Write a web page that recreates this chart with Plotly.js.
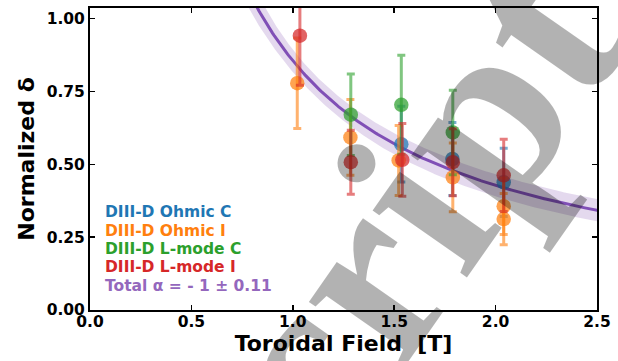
<!DOCTYPE html>
<html>
<head>
<meta charset="utf-8">
<script src="https://cdn.plot.ly/plotly-3.0.1.min.js"></script>
<style>html,body{margin:0;padding:0;background:#fff;}#chart{width:618px;height:361px;}</style>
</head>
<body>
<div id="chart"></div>
<script>
// ---- data ----
const seriesNames = ["DIII-D Ohmic C", "DIII-D Ohmic I", "DIII-D L-mode C", "DIII-D L-mode I"];
const seriesColors = ["31,119,180", "255,127,14", "44,160,44", "214,39,40"];

const ohmicC_B   = [1.535, 1.787, 2.040];
const ohmicC_d   = [0.569, 0.518, 0.438];
const ohmicC_err = [0.130, 0.125, 0.117];

const ohmicI_B   = [1.022, 1.284, 1.522, 1.789, 2.040, 2.040];
const ohmicI_d   = [0.778, 0.592, 0.513, 0.455, 0.356, 0.312];
const ohmicI_err = [0.155, 0.130, 0.120, 0.118, 0.097, 0.088];

const lmodeC_B   = [1.286, 1.535, 1.789];
const lmodeC_d   = [0.670, 0.704, 0.609];
const lmodeC_err = [0.140, 0.170, 0.145];

const lmodeI_B   = [1.035, 1.286, 1.540, 1.789, 2.040];
const lmodeI_d   = [0.941, 0.507, 0.515, 0.507, 0.462];
const lmodeI_err = [0.170, 0.110, 0.125, 0.115, 0.124];

// fit: delta = A * B^alpha
const fitA = 0.855;
const fitAlpha = -1;
const fitAlphaErr = 0.11;
const fitAErrRel = 0.045;
const fitLabel = "Total α = - 1 ± 0.11";

const xTicks = [0.0, 0.5, 1.0, 1.5, 2.0, 2.5];
const yTicks = [0.00, 0.25, 0.50, 0.75, 1.00];

const watermarkText = "Script";

// ---- build ----
const allB = [ohmicC_B, ohmicI_B, lmodeC_B, lmodeI_B];
const allD = [ohmicC_d, ohmicI_d, lmodeC_d, lmodeI_d];
const allE = [ohmicC_err, ohmicI_err, lmodeC_err, lmodeI_err];

const traces = [];

// fit curve and band
const fx = [], fy = [], up = [], lo = [];
for (let i = 0; i <= 300; i++) {
  const b = 0.6 + i * (2.6 - 0.6) / 300;
  const y = fitA * Math.pow(b, fitAlpha);
  const r = Math.sqrt(fitAErrRel * fitAErrRel + Math.pow(fitAlphaErr * Math.log(b), 2));
  fx.push(b); fy.push(y); up.push(y * (1 + r)); lo.push(y * (1 - r));
}
traces.push({
  x: fx.concat(fx.slice().reverse()),
  y: up.concat(lo.slice().reverse()),
  type: 'scatter', mode: 'lines', fill: 'toself',
  fillcolor: 'rgba(148,103,189,0.25)', line: {width: 0, color: 'rgba(0,0,0,0)'},
  hoverinfo: 'skip', showlegend: false
});
traces.push({
  x: fx, y: fy, type: 'scatter', mode: 'lines',
  line: {color: 'rgba(122,72,178,0.95)', width: 3}, showlegend: false
});

for (let s = 0; s < 4; s++) {
  traces.push({
    x: allB[s], y: allD[s], type: 'scatter', mode: 'markers', name: seriesNames[s],
    marker: {size: 14.5, color: 'rgba(' + seriesColors[s] + ',0.72)', line: {width: 0}},
    error_y: {type: 'data', array: allE[s], visible: true, color: 'rgba(' + seriesColors[s] + ',0.6)', thickness: 3, width: 4},
    showlegend: false, cliponaxis: true
  });
}

const font = {family: 'DejaVu Sans', weight: 'bold', color: '#000'};

const annotations = [];
const legendY = [0.325, 0.2625, 0.203, 0.1435, 0.0807];
const legendTexts = seriesNames.concat([fitLabel]);
const legendColors = seriesColors.map(c => 'rgb(' + c + ')').concat(['rgb(148,103,189)']);
for (let i = 0; i < legendTexts.length; i++) {
  annotations.push({
    xref: 'paper', yref: 'paper', x: 0.025, y: legendY[i], xanchor: 'left', yanchor: 'middle',
    text: legendTexts[i], showarrow: false,
    font: {family: 'DejaVu Sans', weight: 'bold', size: 15.5, color: legendColors[i]}
  });
}
annotations.push({
  xref: 'paper', yref: 'paper', x: 0.560, y: 0.160, xanchor: 'center', yanchor: 'middle',
  text: watermarkText, showarrow: false, textangle: -55,
  font: {family: 'Liberation Serif', size: 252, color: 'rgba(0,0,0,0.3)'}
});

const layout = {
  width: 618, height: 361,
  margin: {l: 89.5, r: 20.5, t: 8, b: 50.5},
  paper_bgcolor: '#fff', plot_bgcolor: '#fff',
  showlegend: false,
  font: font,
  xaxis: {
    range: [0, 2.5], tickvals: xTicks, ticktext: xTicks.map(v => v.toFixed(1)),
    ticks: 'inside', ticklen: 5, tickwidth: 1.5, tickcolor: '#000',
    showline: true, linewidth: 2, linecolor: '#000', mirror: 'ticks',
    showgrid: false, zeroline: false, ticklabelstandoff: -4,
    tickfont: {family: 'DejaVu Sans', weight: 'bold', size: 15.5, color: '#000'},
    title: {text: 'Toroidal Field\u00a0 [T]', font: {family: 'DejaVu Sans', weight: 'bold', size: 22, color: '#000'}, standoff: 0}
  },
  yaxis: {
    range: [0, 1.036], tickvals: yTicks, ticktext: yTicks.map(v => v.toFixed(2)),
    ticks: 'inside', ticklen: 5, tickwidth: 1.5, tickcolor: '#000',
    showline: true, linewidth: 2, linecolor: '#000', mirror: 'ticks',
    showgrid: false, zeroline: false,
    tickfont: {family: 'DejaVu Sans', weight: 'bold', size: 15.5, color: '#000'},
    title: {text: 'Normalized δ', font: {family: 'DejaVu Sans', weight: 'bold', size: 22, color: '#000'}, standoff: 6}
  },
  annotations: annotations
};

Plotly.newPlot('chart', traces, layout, {staticPlot: true, displayModeBar: false});
</script>
</body>
</html>
